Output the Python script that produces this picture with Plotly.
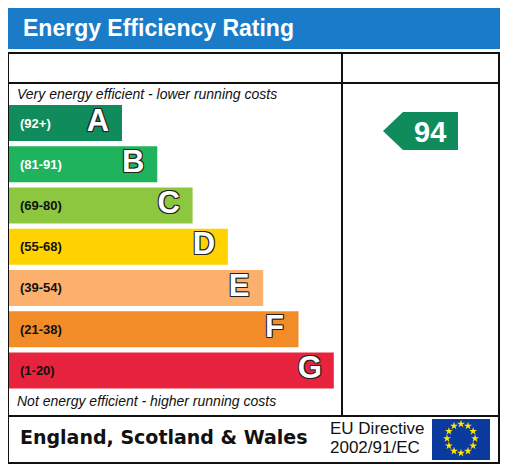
import numpy as np
import plotly.graph_objects as go

# Window size in pixels; the page body adds an 8px margin
W, H = 509, 467
OFF = 8

# Data
bands = ["A", "B", "C", "D", "E", "F", "G"]
band_ranges = ["(92+)", "(81-91)", "(69-80)", "(55-68)", "(39-54)", "(21-38)", "(1-20)"]
band_mins = [92, 81, 69, 55, 39, 21, 1]
current_rating = 94

title_text = "Energy Efficiency Rating"
top_note = "Very energy efficient - lower running costs"
bottom_note = "Not energy efficient - higher running costs"
region_text = "England, Scotland & Wales"
directive_lines = ["EU Directive", "2002/91/EC"]

# Styles
band_colors = ["#0f8b5c", "#1eb35c", "#8dc63f", "#ffd200", "#fbb06e", "#f28c28", "#e8233e"]
range_colors = ["white", "white", "#111111", "#111111", "#111111", "#111111", "#111111"]
header_blue = "#1a7cc9"
font_main = "Liberation Sans"

# Layout constants (pixels)
bar_left = 8
bar_first = 114
bar_step = 35.3
rows_top, rows_bot = 102.4, 391.1
pitch = (rows_bot - rows_top) / len(bands)
bar_lengths = [bar_first + bar_step * i for i in range(len(bands))]
bar_ends = [bar_left + b for b in bar_lengths]

fig_w, fig_h = W - OFF, H - OFF


def ydom(px):
    return 1 - (px - OFF) / fig_h


fig = go.Figure()

# Bands
fig.add_trace(go.Bar(
    y=bands, x=bar_lengths, base=bar_left, orientation="h",
    marker=dict(color=band_colors, line=dict(width=0)),
    hoverinfo="skip", showlegend=False,
))

# Band letters with dark outline
outline = "-1px -1px 0 #222, 1px -1px 0 #222, -1px 1px 0 #222, 1px 1px 0 #222"
fig.add_trace(go.Scatter(
    y=bands, x=[e - 24 for e in bar_ends], mode="text", text=bands,
    textposition="middle center",
    textfont=dict(family=font_main, size=31, color="white", weight="bold", shadow=outline),
    hoverinfo="skip", showlegend=False,
))

# Band range labels
for b, r, c in zip(bands, band_ranges, range_colors):
    fig.add_annotation(x=18, y=b, xref="x", yref="y", text=r, showarrow=False,
                       xanchor="left", yanchor="middle",
                       font=dict(family=font_main, size=13, color=c, weight="bold"))

# Current rating arrow
idx = next(i for i, m in enumerate(band_mins) if current_rating >= m)
cy = rows_top + (idx + 0.5) * pitch + 8
tip, body_l, body_r, half = 383, 403, 458, 19
fig.add_trace(go.Scatter(
    x=[tip, body_l, body_r, body_r, body_l, tip],
    y=[cy, cy - half, cy - half, cy + half, cy + half, cy],
    mode="lines", fill="toself", fillcolor=band_colors[idx],
    line=dict(width=0, color=band_colors[idx]),
    xaxis="x", yaxis="y2", hoverinfo="skip", showlegend=False,
))
fig.add_annotation(x=(body_l + body_r) / 2 - 1, y=cy + 1, xref="x", yref="y2",
                   text=str(current_rating), showarrow=False,
                   font=dict(family=font_main, size=29, color="white", weight="bold"))

# EU flag stars
ang = np.linspace(0, 2 * np.pi, 12, endpoint=False)
fig.add_trace(go.Scatter(
    x=461 + 14 * np.cos(ang), y=438.5 + 14.5 * np.sin(ang),
    mode="markers", marker=dict(symbol="star", size=6, color="#ffe500", line=dict(width=0)),
    xaxis="x", yaxis="y2", hoverinfo="skip", showlegend=False,
))

# Frame, header, dividers, flag
shapes = [
    dict(type="rect", x0=7, x1=500, y0=8, y1=49, fillcolor=header_blue, line=dict(width=0)),
    dict(type="rect", x0=8, x1=499, y0=53, y1=463, line=dict(color="#111111", width=2)),
    dict(type="line", x0=8, x1=499, y0=83, y1=83, line=dict(color="#111111", width=2)),
    dict(type="line", x0=8, x1=499, y0=416, y1=416, line=dict(color="#111111", width=2)),
    dict(type="line", x0=342, x1=342, y0=53, y1=416, line=dict(color="#111111", width=2)),
    dict(type="rect", x0=432, x1=490, y0=419, y1=460, fillcolor="#0a3a9e", line=dict(width=0)),
]
for s in shapes:
    s.update(xref="x", yref="y2", layer="below")
    fig.add_shape(**s)

# Texts
fig.add_annotation(x=21, y=28, xref="x", yref="y2", text=title_text, showarrow=False,
                   xanchor="left", yanchor="middle",
                   font=dict(family=font_main, size=23, color="white", weight="bold"))
fig.add_annotation(x=15, y=94, xref="x", yref="y2", text="<i>" + top_note + "</i>",
                   showarrow=False, xanchor="left", yanchor="middle",
                   font=dict(family=font_main, size=14, color="#111111"))
fig.add_annotation(x=15, y=401, xref="x", yref="y2", text="<i>" + bottom_note + "</i>",
                   showarrow=False, xanchor="left", yanchor="middle",
                   font=dict(family=font_main, size=14, color="#111111"))
fig.add_annotation(x=18, y=437, xref="x", yref="y2", text=region_text, showarrow=False,
                   xanchor="left", yanchor="middle",
                   font=dict(family="DejaVu Sans", size=19, color="#111111", weight="bold"))
for k, line in enumerate(directive_lines):
    fig.add_annotation(x=328, y=428 + 19 * k, xref="x", yref="y2", text=line,
                       showarrow=False, xanchor="left", yanchor="middle",
                       font=dict(family=font_main, size=17, color="#111111"))

fig.update_layout(
    width=fig_w, height=fig_h, margin=dict(l=0, r=0, t=0, b=0),
    paper_bgcolor="white", plot_bgcolor="rgba(0,0,0,0)",
    bargap=0.125, showlegend=False,
    xaxis=dict(range=[OFF, W], domain=[0, 1], visible=False, fixedrange=True),
    yaxis=dict(type="category", categoryorder="array", categoryarray=bands,
               autorange="reversed", domain=[ydom(rows_bot), ydom(rows_top)],
               visible=False, fixedrange=True),
    yaxis2=dict(range=[H, OFF], domain=[0, 1], anchor="x", visible=False, fixedrange=True),
)

fig.write_html("out.html")
